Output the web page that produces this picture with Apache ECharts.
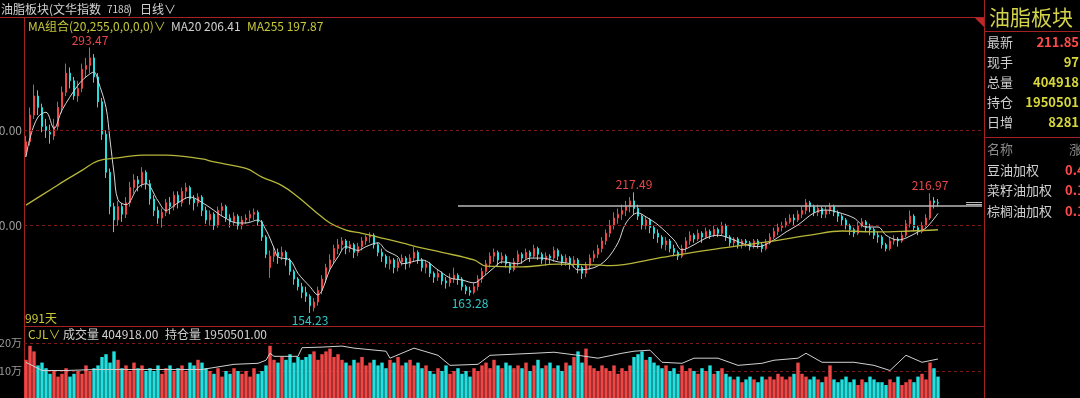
<!DOCTYPE html>
<html lang="zh">
<head>
  <meta charset="UTF-8">
  <title>油脂板块 日线</title>
  <style>
    html, body { margin: 0; padding: 0; background: #000; }
    #chart { width: 1080px; height: 398px; }
  </style>
</head>
<body>
  <div id="chart"></div>
  <script src="https://cdn.jsdelivr.net/npm/echarts@6/dist/echarts.min.js"></script>
  <script>
    // each candle: [open, close, low, high]
    var kData = [
      [238,244,236,247],[244,258,242,262],[258,268,256,274],[268,262,258,271],[262,252,249,264],[252,250,246,256],[249,248,243,253],[247,252,245,256],[252,262,250,265],[262,270,259,273],
      [270,280,268,285],[280,276,272,283],[276,268,266,278],[268,272,265,276],[272,282,270,285],[282,284,278,288],[284,288,280,293.47],[288,278,275,290],[278,265,262,280],[265,248,245,267],
      [248,228,225,250],[228,210,206,230],[210,203,196.6,212],[203,210,200,213],[210,206,202,212],[206,212,204,215],[212,220,210,223],[220,224,217,227],[224,222,218,226],[222,228,220,230.7],
      [228,222,219,229],[222,214,211,224],[214,208,205,216],[208,204,201,210],[204,207,199,209],[207,212,205,214],[212,210,206,215],[210,216,208,218],[216,212,209,218],[212,218,210,220],
      [218,220,214,222.5],[220,214,211,221],[214,212,208,216],[212,215,210,217],[215,208,205,216],[208,203,201,210],[203,206,200,208],[206,200,197.7,207],[200,208,199,210],[208,210,205,212],
      [210,204,202,211],[204,202,199,206],[202,205,200,207],[205,200,198,206],[200,203,198,205],[203,204,201,206],[204,206,202,208],[206,207,203,209],[207,202,200,208],[202,194,192,203],
      [194,185,183,195],[178,184,172.6,187],[184,186,181,189],[186,184,180,188],[184,186,182,189],[186,182,179,187],[182,176,174,183],[176,172,169,177],[172,168,166,173],[168,165,162,170],
      [165,163,160,168],[163,158,154.23,164],[157,160,155,162],[160,166,158,168],[166,172,164,174],[172,178,170,180],[178,182,176,185],[182,188,180,190],[188,190,185,193],[190,192,187,194],
      [192,188,185,193],[188,190,186,192],[190,186,183,191],[186,189,184,191],[189,192,187,194],[192,194,190,195],[194,195,191,196.5],[195,190,188,196],[190,186,184,191],[186,184,181,188],
      [184,180,178,185],[180,182,177,184],[182,178,175,183],[178,181,176,183],[181,183,179,185],[183,180,177,184],[180,183,178,185],[183,186,181,188.8],[186,182,180,187],[182,178,176,183],
      [178,180,175,182],[180,175,173,181],[175,173,170,176],[173,175,171,177],[175,171,169,176],[171,170,167,173],[170,172,168,175],[172,174,170,178],[174,172,169,175],[172,168,166,173],
      [168,166,164,169],[166,165,163.28,168],[165,168,164,170],[168,172,166,174],[172,176,170,178],[176,180,174,182],[180,184,178,186],[184,186,181,188],[186,182,179,187],[182,184,180,186],
      [184,180,178,185],[180,177,175,181],[177,181,176,183],[181,185,179,187],[185,183,180,186],[183,186,182,188],[186,184,181,187],[184,188,183,190],[188,185,182,189],[185,182,180,186],
      [182,184,179,186],[184,183,180,185],[183,187,181,189],[187,184,182,188],[184,181,179,185],[181,183,179,185],[183,180,177,184],[180,182,178,184],[182,178,175,183],[178,175,172,179],
      [175,179,173,181],[179,183,177,185],[183,185,181,187],[185,188,183,190],[188,192,186,194],[192,196,190,198],[196,200,194,203],[200,204,198,207],[204,206,201,209],[206,208,203,211],
      [208,210,205,213],[210,213,207,215],[213,209,206,217.49],[209,205,203,211],[205,200,198,206],[200,203,198,205],[203,199,196,204],[199,196,193,200],[196,194,191,198],[194,190,188,195],
      [190,192,187,194],[192,188,186,193],[188,186,184,190],[186,184,182,187],[184,188,183,190],[188,192,186,194],[192,195,190,197],[195,193,191,196],[193,196,192,198],[196,194,191,197],
      [194,197,193,199],[197,195,193,198],[195,198,194,200],[198,196,194,199],[196,200,195,202],[200,194,192,201],[194,191,189,195],[191,193,189,194],[193,190,188,194],[190,192,188,193],
      [192,191,189,193],[191,189,187,192],[189,192,188,193],[192,190,188,193],[190,188,186,191],[188,191,187,193],[191,194,190,196],[194,197,193,199],[197,199,195,201],[199,200,197,202],
      [200,202,199,204],[202,204,201,206],[204,203,200,206],[203,206,202,208],[206,208,204,210],[208,212,206,214],[212,210,207,213],[210,207,205,211],[207,209,205,211],[209,206,204,210],
      [206,208,204,210],[208,210,206,212],[210,207,205,211],[207,205,202,208],[205,203,200,206],[203,200,198,204],[200,198,195,201],[198,196,194,199],[196,200,195,202],[200,202,199,204],
      [202,199,197,203],[199,198,195,201],[198,195,193,199],[195,194,191,197],[194,190,188,195],[190,188,186.5,191],[188,192,187,194],[192,193,190,195],[193,192,189,194],[192,195,191,197],
      [195,201,194,203],[201,205,199,208],[205,199,197,206],[199,197,195,200],[197,200,196,202],[200,204,199,206],[204,213,203,216.97],[213,212,209,215],[212,211.85,210,214]
    ];

    // 成交量, 万手
    var volume = [
      14,19, 17,12,13,11, 9,10,8,9,11,8,9,10,9,12,10,11,12, 15,16,13,17,14,
      11,12,10,13,11,12,10, 11,10,12,9,11,12,10,11,12,10, 13,12,14,13,11,
      10,9,11,8,10,9,11,10,9,10,8,11,9,10,12, 19,
      14,13,15,14,16,13,15,14,15,16,17,14, 16,17,18,15,16,
      14,13,12,14,13,15,12,13,14,12,13,11, 14,13,15,12,13,14,12,13,
      11,12,10,9,11,10,12,9,10,11,9,10,8,11,10, 12,13,11,14,12,11,13,12,11,
      12,11,13,10,12,14,11,12,13,11,12,10,13,12,15,17,13, 18,12,11,10,12,
      11,10,12,9,11,10,12, 15,16,17,14,15,13,12,
      11,12,10,11,9,12,10,11,10,9,11,10,12,9,10,11,9,
      8,7,8,6,7,8,7,6,8,7, 8,7,9,8,7,8,9,13,9,8,7,8,
      7,6,8,12,7,6,7,8,6,7,5,7,6,8,7,6, 6,5,7,6,8,5,6,7,6,8,9,7,13,11,8
    ];

    // [candle index, value]
    var ma20Pts = [
      [0,236],[1,246],[3,257],[5,259.5],[7,251],[9,260.6],[13,273.7],[15,278],[17,280.6],[18,276],
      [20,262],[21,245],[22,227.6],[23,213.5],[25,211],[28,220],[30,222],[33,213],[35,208],[38,212],
      [41,215],[43,213.5],[47,208],[49,205],[53,201.4],[55,201.4],[58,203],[60,197.7],[62,188.3],[63,183.6],
      [66,182],[68,175],[71,168],[73,163.7],[74,166],[76,177],[78,183.6],[80,189],[83,187],[85,189],
      [88,191],[90,187],[93,183.6],[94,180],[99,182],[103,176.8],[106,172.6],[109,171.5],[112,170],[114,172.6],
      [117,178],[119,181],[123,180],[126,183],[129,183],[133,181],[136,180],[138,176.8],[142,178],[145,182],
      [148,191],[150,201.4],[153,206.7],[155,204.6],[158,200.4],[162,192.5],[164,187.3],[167,190],[170,193.5],[173,195],
      [177,192.5],[180,190],[183,189],[187,192.5],[190,196.7],[193,200.4],[197,206.7],[200,208.2],[203,207],[207,204],
      [210,199.3],[213,199.3],[215,195],[218,192.5],[220,193.5],[223,196.7],[225,198.8],[228,206.41]
    ];
    var ma255Pts = [
      [0,210.8],[6,218.7],[10,224],[14,229],[18,234],[23,235.5],[29,237],[35,237],[44,235],[47,233.4],
      [55,230],[59,225.5],[64,221],[68,215],[72,208],[76,201.4],[80,197.7],[84,196],[88,194],[94,191],
      [98,188.8],[104,186],[112,182],[115,178.8],[124,178.4],[133,179.8],[143,179.4],[146,179],[158,183],[171,187.3],
      [183,190.8],[196,195],[204,197.2],[213,196.7],[221,197.2],[228,197.87]
    ];
    // 持仓量, 万手
    var oiPts = [
      [0,178.7],[2,159],[4,139],[10,139],[18,144],[31,144],[44,144],[52,169],[58,174],[60,189],
      [61,223],[62,208],[68,208],[69,250],[74,253],[79,258],[82,248],[90,233],[91,199],[97,248],
      [103,213],[106,164],[113,169],[116,213],[127,223],[132,228],[138,213],[143,199],[149,223],[152,233],
      [156,238],[159,179],[164,174],[167,199],[173,199],[178,164],[184,174],[187,189],[193,199],[195,223],
      [199,179],[207,179],[212,164],[216,139],[220,213],[224,179],[228,195.05]
    ];

    var peakIdx = [16, 152, 226];
    var troughIdx = [71, 111];
    var priceTicks = [200, 250];
    var resistance = 210.5;
    var padCount = 11;
    var quote = { last: 211.85, hand: 97, vol: 404918, oi: 1950501, oiChg: 8281 };

    var RED = '#f04646', CYAN = '#22e0e0', AXIS = '#a32222', DASH = '#7f1a1a';
    var FONT = '"Noto Sans CJK SC", sans-serif';

    var days = [];
    for (var i = 0; i < kData.length + padCount; i++) days.push(String(i));
    var lastIdx = days.length - 1;

    var marks = peakIdx.map(function (i) {
      return { coord: [i, kData[i][3]], value: kData[i][3], label: { position: 'top', color: '#e84848', distance: 1 } };
    }).concat(troughIdx.map(function (i) {
      return { coord: [i, kData[i][2]], value: kData[i][2], label: { position: 'bottom', color: '#30c8c8', distance: 1 } };
    }));

    function txt(x, y, s, color, size, extra) {
      var st = { text: s, x: x, y: y, fill: color, font: (size || 12) + 'px ' + FONT, verticalAlign: 'middle', align: 'left' };
      for (var k in extra) st[k] = extra[k];
      return { type: 'text', silent: true, style: st };
    }
    function ln(x1, y1, x2, y2, color) {
      return { type: 'line', silent: true, shape: { x1: x1, y1: y1, x2: x2, y2: y2 }, style: { stroke: color || AXIS, lineWidth: 1 } };
    }
    var boldR = { align: 'right', font: 'bold 13px ' + FONT };

    var chart = echarts.init(document.getElementById('chart'));

    var option = {
      backgroundColor: '#000',
      animation: false,
      grid: [
        { left: 24, right: 96, top: 35, height: 286, outerBoundsMode: 'none', containLabel: false },
        { left: 24, right: 96, top: 343, height: 56, outerBoundsMode: 'none', containLabel: false }
      ],
      xAxis: [
        { type: 'category', data: days, gridIndex: 0, show: false, boundaryGap: true },
        { type: 'category', data: days, gridIndex: 1, show: false, boundaryGap: true }
      ],
      yAxis: [
        {
          gridIndex: 0, min: 150, max: 300, interval: 50,
          axisLine: { show: false }, axisTick: { show: false }, splitLine: { show: false },
          axisLabel: {
            margin: 2, color: '#9c9c9c', fontSize: 12, fontFamily: FONT,
            formatter: function (v) { return priceTicks.indexOf(v) >= 0 ? v.toFixed(2) : ''; }
          }
        },
        {
          gridIndex: 1, min: 0, max: 20, interval: 10,
          axisLine: { show: false }, axisTick: { show: false },
          splitLine: { show: true, lineStyle: { color: DASH, type: [3, 3] } },
          axisLabel: {
            margin: 2, color: '#9c9c9c', fontSize: 11, fontFamily: FONT,
            formatter: function (v) { return v > 0 ? v + '万' : ''; }
          }
        },
        { gridIndex: 1, min: 0, max: 273, show: false }
      ],
      series: [
        {
          type: 'candlestick', xAxisIndex: 0, yAxisIndex: 0, data: kData, barWidth: 2,
          itemStyle: { color: RED, color0: CYAN, borderColor: RED, borderColor0: CYAN, borderWidth: 1 },
          markPoint: {
            symbol: 'circle', symbolSize: 1, itemStyle: { color: 'rgba(0,0,0,0)' },
            label: { show: true, fontSize: 12, fontFamily: FONT, formatter: function (p) { return p.value.toFixed(2); } },
            data: marks
          },
          markLine: {
            silent: true, symbol: 'none', label: { show: false },
            data: [
              { yAxis: priceTicks[0], lineStyle: { color: DASH, type: [3, 3], width: 1 } },
              { yAxis: priceTicks[1], lineStyle: { color: DASH, type: [3, 3], width: 1 } },
              [{ coord: [108, resistance], lineStyle: { color: '#b8b8b8', type: 'solid', width: 1.5 } }, { coord: [lastIdx, resistance] }],
              [{ coord: [lastIdx - 4, resistance + 1.9], lineStyle: { color: '#b8b8b8', type: 'solid', width: 1 } }, { coord: [lastIdx, resistance + 1.9] }],
              [{ coord: [lastIdx - 4, resistance + 0.9], lineStyle: { color: '#b8b8b8', type: 'solid', width: 1 } }, { coord: [lastIdx, resistance + 0.9] }]
            ]
          }
        },
        {
          name: 'MA20', type: 'line', xAxisIndex: 0, yAxisIndex: 0, data: ma20Pts, smooth: 0.35,
          showSymbol: false, lineStyle: { color: '#d6d6d6', width: 1 }, z: 3
        },
        {
          name: 'MA255', type: 'line', xAxisIndex: 0, yAxisIndex: 0, data: ma255Pts, smooth: 0.4,
          showSymbol: false, lineStyle: { color: '#b6b63a', width: 1.3 }, z: 3
        },
        {
          type: 'bar', xAxisIndex: 1, yAxisIndex: 1, data: volume, barCategoryGap: '15%',
          itemStyle: {
            color: function (p) { var k = kData[p.dataIndex]; return k[1] >= k[0] ? RED : CYAN; }
          }
        },
        {
          type: 'line', xAxisIndex: 1, yAxisIndex: 2, data: oiPts, showSymbol: false,
          lineStyle: { color: '#d0d0d0', width: 1 }, z: 3
        }
      ],
      graphic: [
        ln(0, 17.5, 984, 17.5),
        ln(24.5, 17, 24.5, 398),
        ln(984.5, 0, 984.5, 398),
        ln(24, 326.5, 984, 326.5),
        ln(984, 31.5, 1080, 31.5),
        ln(984, 137.5, 1080, 137.5),
        { type: 'polygon', silent: true, shape: { points: [[975, 18], [984, 18], [984, 27]] }, style: { fill: '#c02828' } },

        txt(1, 9, '油脂板块(文华指数', '#d4d4d4', 12),
        txt(107, 9, '7188', '#d4d4d4', 10),
        txt(128, 9, ')', '#d4d4d4', 12),
        txt(140, 9, '日线∨', '#d4d4d4', 12),
        txt(28, 26, 'MA组合(20,255,0,0,0,0)∨', '#c8c83c', 12),
        txt(171, 26, 'MA20 ' + ma20Pts[ma20Pts.length - 1][1].toFixed(2), '#d0d0d0', 12),
        txt(247, 26, 'MA255 ' + ma255Pts[ma255Pts.length - 1][1].toFixed(2), '#c8c83c', 12),
        txt(25, 318, '991天', '#c8c83c', 12),
        txt(28, 334, 'CJL∨', '#c8c83c', 12),
        txt(63, 334, '成交量 ' + quote.vol.toFixed(2), '#d0d0d0', 12),
        txt(165, 334, '持仓量 ' + quote.oi.toFixed(2), '#d0d0d0', 12),

        txt(989, 17, '油脂板块', '#d2d24a', 21),
        txt(987, 42, '最新', '#cfcfcf', 13),
        txt(987, 62, '现手', '#cfcfcf', 13),
        txt(987, 82, '总量', '#cfcfcf', 13),
        txt(987, 102, '持仓', '#cfcfcf', 13),
        txt(987, 122, '日增', '#cfcfcf', 13),
        txt(1079, 42, quote.last.toFixed(2), '#ff4a4a', 13, boldR),
        txt(1079, 62, String(quote.hand), '#d6d63c', 13, boldR),
        txt(1079, 82, String(quote.vol), '#d6d63c', 13, boldR),
        txt(1079, 102, String(quote.oi), '#d6d63c', 13, boldR),
        txt(1079, 122, String(quote.oiChg), '#d6d63c', 13, boldR),
        txt(987, 149, '名称', '#8a8a8a', 13),
        txt(1069, 149, '涨', '#8a8a8a', 13),
        txt(987, 170, '豆油加权', '#cfcfcf', 13),
        txt(987, 190, '菜籽油加权', '#cfcfcf', 13),
        txt(987, 211, '棕榈油加权', '#cfcfcf', 13),
        txt(1065, 170, '0.4', '#ff4a4a', 13, { font: 'bold 13px ' + FONT }),
        txt(1065, 190, '0.1', '#ff4a4a', 13, { font: 'bold 13px ' + FONT }),
        txt(1065, 211, '0.1', '#ff4a4a', 13, { font: 'bold 13px ' + FONT })
      ]
    };

    chart.setOption(option);
  </script>
</body>
</html>
